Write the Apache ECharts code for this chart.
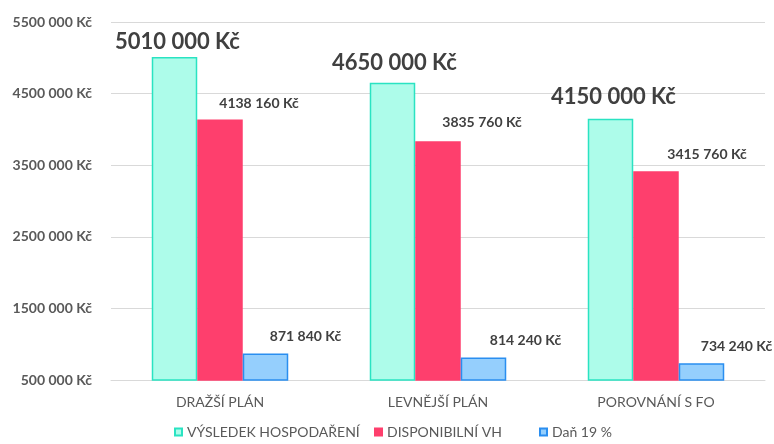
<!DOCTYPE html>
<html>
<head>
<meta charset="utf-8">
<script src="https://cdn.jsdelivr.net/npm/echarts@6/dist/echarts.min.js"></script>
<style>
html,body{margin:0;padding:0;background:#fff;}
#chart{width:774px;height:444px;}
</style>
</head>
<body>
<div id="chart"></div>
<script>
const categories = ['DRAŽŠÍ PLÁN', 'LEVNĚJŠÍ PLÁN', 'POROVNÁNÍ S FO'];
const seriesNames = ['VÝSLEDEK HOSPODAŘENÍ', 'DISPONIBILNÍ VH', 'Daň 19 %'];
const vysledek = [5010000, 4650000, 4150000];
const disponibilni = [4138160, 3835760, 3415760];
const dan = [871840, 814240, 734240];
const yTicks = [500000, 1500000, 2500000, 3500000, 4500000, 5500000];

// label nudges (styling only)
const nudgeVysledek = [[3, -4], [2, -9], [3, -11]];
const nudgeDisp = [[39, -9], [44, -12], [51, -10]];
const nudgeDan = [[40, -10], [42, -10], [35, -10]];

function fmt(v) {
  const th = Math.floor(v / 1000);
  const rest = String(v % 1000).padStart(3, '0');
  return th + ' ' + rest + ' Kč';
}

const FONT = 'Lato';
const chart = echarts.init(document.getElementById('chart'), null, {renderer: 'canvas'});

function mk(values, nudges) {
  return values.map((v, i) => ({value: v, label: {offset: nudges[i]}}));
}

const styles = [
  {fill: '#adfcea', border: '#2ae3c2'},
  {fill: '#fe3f6d', border: '#fe3f6d'},
  {fill: '#95cffd', border: '#2a8ef0'}
];

const dataSets = [mk(vysledek, nudgeVysledek), mk(disponibilni, nudgeDisp), mk(dan, nudgeDan)];
const labelSizes = [22, 14, 14];

const legendLefts = [174, 374, 539];

chart.setOption({
  animation: false,
  textStyle: {fontFamily: FONT},
  grid: {left: 111, right: 9, top: 22, bottom: 64},
  legend: seriesNames.map((n, i) => ({
    data: [n],
    left: legendLefts[i],
    top: 425,
    padding: 0,
    icon: 'rect',
    itemWidth: 7,
    itemHeight: 7,
    textStyle: {fontFamily: FONT, fontSize: 14, color: '#595959'}
  })),
  xAxis: {
    type: 'category',
    data: categories,
    axisLine: {lineStyle: {color: '#d9d9d9', width: 1}},
    axisTick: {show: false},
    axisLabel: {fontFamily: FONT, fontSize: 14, color: '#595959', margin: 15}
  },
  yAxis: {
    type: 'value',
    min: yTicks[0],
    max: yTicks[yTicks.length - 1],
    interval: yTicks[1] - yTicks[0],
    axisLine: {show: false},
    axisTick: {show: false},
    splitLine: {lineStyle: {color: '#d9d9d9', width: 1}},
    axisLabel: {
      fontFamily: FONT, fontSize: 14, fontWeight: 'bold', color: '#595959', margin: 19,
      formatter: v => (v / 1000) + ' 000 Kč'
    }
  },
  series: seriesNames.map((n, i) => ({
    name: n,
    type: 'bar',
    data: dataSets[i],
    barWidth: 45.5,
    barGap: '0%',
    itemStyle: {color: styles[i].fill, borderColor: styles[i].border, borderWidth: 1.5},
    label: {
      show: true,
      position: 'top',
      distance: 0,
      fontFamily: FONT,
      fontSize: labelSizes[i],
      fontWeight: 'bold',
      color: '#404040',
      formatter: p => fmt(p.value)
    }
  }))
});
</script>
</body>
</html>
